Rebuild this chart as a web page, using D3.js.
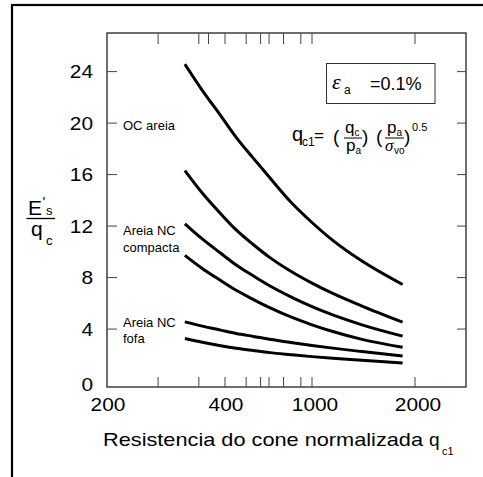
<!DOCTYPE html>
<html>
<head>
<meta charset="utf-8">
<script src="https://cdn.jsdelivr.net/npm/d3@7"></script>
<style>
  body { margin: 0; background: #fff; }
  svg { font-family: "Liberation Sans", Arial, sans-serif; }
</style>
</head>
<body>
<svg id="chart" width="483" height="477"></svg>
<script>
var qc1 = [316, 350, 390, 450, 540, 640, 800, 1000, 1150, 1400, 1840];

// E's/qc for each curve, top to bottom
var ocAreia  = [24.58, 22.55, 20.58, 18.89, 17.26, 15.77, 13.87, 12.28, 10.89, 9.28, 7.46];
var curve2   = [16.31, 14.57, 12.96, 11.70, 10.55, 9.57, 8.49, 7.57, 6.77, 5.79, 4.54];
var compacta = [12.18, 11.0, 9.89, 8.98, 8.12, 7.36, 6.50, 5.74, 5.10, 4.33, 3.45];
var curve4   = [9.73, 8.71, 7.77, 7.01, 6.29, 5.66, 4.94, 4.33, 3.81, 3.20, 2.58];
var fofa     = [4.56, 4.23, 3.92, 3.66, 3.43, 3.21, 2.96, 2.73, 2.52, 2.25, 1.90];
var curve6   = [3.27, 2.98, 2.71, 2.51, 2.33, 2.17, 2.01, 1.86, 1.73, 1.58, 1.36];
var series = [ocAreia, curve2, compacta, curve4, fofa, curve6];

var xLabels = [200, 400, 1000, 2000];
var xTicksBottom = [270, 343, 400, 500, 582, 636, 741, 889, 1000, 2000];
var xTicksTop = [270, 343, 363, 400, 500, 582, 636, 741, 889, 1000, 2000];
var yTicks = [4, 8, 12, 16, 20, 24];
var yLabels = [0, 4, 8, 12, 16, 20, 24];

var svg = d3.select("#chart");

// the printed axis is not an even log scale, so piecewise
var x = d3.scaleLog()
  .domain([200, 400, 1000, 2000, 2820])
  .range([107, 225, 312, 415, 466]);
var y = d3.scaleLinear().domain([-0.5, 27]).range([387, 33]);

var pLeft = x(200), pRight = x(2820), pTop = y(27), pBottom = y(-0.5);

// outer frame (cut at right and bottom)
svg.append("rect")
  .attr("x", 12).attr("y", 5).attr("width", 520).attr("height", 520)
  .attr("fill", "none").attr("stroke", "#000").attr("stroke-width", 2.2);

// plot frame
svg.append("rect")
  .attr("x", pLeft).attr("y", pTop)
  .attr("width", pRight - pLeft).attr("height", pBottom - pTop)
  .attr("fill", "none").attr("stroke", "#222").attr("stroke-width", 1.3);

var ticks = svg.append("g").attr("stroke", "#444").attr("stroke-width", 1);

ticks.selectAll(".tb").data(xTicksBottom).enter().append("line")
  .attr("x1", function(d){ return x(d); }).attr("x2", function(d){ return x(d); })
  .attr("y1", pBottom).attr("y2", pBottom - 10);

ticks.selectAll(".tt").data(xTicksTop).enter().append("line")
  .attr("x1", function(d){ return x(d); }).attr("x2", function(d){ return x(d); })
  .attr("y1", pTop).attr("y2", pTop + 11);

ticks.selectAll(".tl").data(yTicks).enter().append("line")
  .attr("x1", pLeft).attr("x2", pLeft + 10)
  .attr("y1", function(d){ return y(d); }).attr("y2", function(d){ return y(d); });

ticks.selectAll(".tr").data(yTicks).enter().append("line")
  .attr("x1", pRight).attr("x2", pRight - 9)
  .attr("y1", function(d){ return y(d); }).attr("y2", function(d){ return y(d); });

svg.selectAll(".xl").data(xLabels).enter().append("text")
  .attr("x", function(d){ return x(d) + (d >= 1000 ? 3 : 1); })
  .attr("y", 411)
  .attr("text-anchor", "middle")
  .attr("font-size", 19)
  .attr("textLength", function(d){ return String(d).length * 11.6; })
  .attr("lengthAdjust", "spacingAndGlyphs")
  .text(function(d){ return d; });

svg.selectAll(".yl").data(yLabels).enter().append("text")
  .attr("x", 93)
  .attr("y", function(d){ return y(d) + (d === 0 ? 4 : 0); })
  .attr("dy", "0.35em")
  .attr("text-anchor", "end")
  .attr("font-size", 19)
  .attr("textLength", function(d){ return String(d).length * 11.6; })
  .attr("lengthAdjust", "spacingAndGlyphs")
  .text(function(d){ return d; });

var line = d3.line()
  .x(function(d, i){ return x(qc1[i]); })
  .y(function(d){ return y(d); })
  .curve(d3.curveMonotoneX);

svg.selectAll(".curve").data(series).enter().append("path")
  .attr("d", line)
  .attr("fill", "none")
  .attr("stroke", "#000")
  .attr("stroke-width", 3);

// curve labels
var notes = [
  ["OC areia", 130],
  ["Areia NC", 235],
  ["compacta", 251.5],
  ["Areia NC", 326.5],
  ["fofa", 343]
];
svg.selectAll(".note").data(notes).enter().append("text")
  .attr("x", 123).attr("y", function(d){ return d[1]; })
  .attr("font-size", 13)
  .text(function(d){ return d[0]; });

// y axis title: E's / qc
var yt = svg.append("g");
yt.append("text").attr("x", 28).attr("y", 215).attr("font-size", 21).text("E");
yt.append("text").attr("x", 42.5).attr("y", 207).attr("font-size", 14).text("'");
yt.append("text").attr("x", 46).attr("y", 215).attr("font-size", 13).text("s");
yt.append("line").attr("x1", 26.5).attr("x2", 55).attr("y1", 218.5).attr("y2", 218.5)
  .attr("stroke", "#000").attr("stroke-width", 1.3);
yt.append("text").attr("x", 31).attr("y", 236).attr("font-size", 21).text("q");
yt.append("text").attr("x", 46).attr("y", 245).attr("font-size", 13).text("c");

// x axis title
svg.append("text").attr("x", 103).attr("y", 446).attr("font-size", 19)
  .attr("textLength", 320).attr("lengthAdjust", "spacingAndGlyphs")
  .text("Resistencia do cone normalizada");
svg.append("text").attr("x", 429).attr("y", 446).attr("font-size", 19).text("q");
svg.append("text").attr("x", 442).attr("y", 455).attr("font-size", 11).text("c1");

// strain box
svg.append("rect").attr("x", 326.5).attr("y", 63.5).attr("width", 108.5).attr("height", 40)
  .attr("fill", "#fff").attr("stroke", "#333").attr("stroke-width", 1);
svg.append("text").attr("x", 332).attr("y", 89).attr("font-size", 22)
  .attr("font-family", "Liberation Serif, serif").attr("font-style", "italic").text("ε");
svg.append("text").attr("x", 344).attr("y", 94).attr("font-size", 12).text("a");
svg.append("text").attr("x", 370).attr("y", 89.5).attr("font-size", 18).text("=0.1%");

// formula
var f = svg.append("g");
f.append("text").attr("x", 292).attr("y", 141).attr("font-size", 20).text("q");
f.append("text").attr("x", 302).attr("y", 146).attr("font-size", 12).text("c1");
f.append("text").attr("x", 314).attr("y", 141).attr("font-size", 17).text("=");
f.append("text").attr("x", 333).attr("y", 143).attr("font-size", 19).text("(");
f.append("text").attr("x", 345).attr("y", 133).attr("font-size", 17).text("q");
f.append("text").attr("x", 354.5).attr("y", 136).attr("font-size", 10).text("c");
f.append("line").attr("x1", 344).attr("x2", 362).attr("y1", 138).attr("y2", 138)
  .attr("stroke", "#000").attr("stroke-width", 1);
f.append("text").attr("x", 346).attr("y", 151).attr("font-size", 17).text("p");
f.append("text").attr("x", 355.5).attr("y", 154).attr("font-size", 10).text("a");
f.append("text").attr("x", 362).attr("y", 143).attr("font-size", 19).text(")");
f.append("text").attr("x", 376).attr("y", 143).attr("font-size", 19).text("(");
f.append("text").attr("x", 387).attr("y", 133).attr("font-size", 17).text("p");
f.append("text").attr("x", 396.5).attr("y", 136).attr("font-size", 10).text("a");
f.append("line").attr("x1", 385).attr("x2", 404).attr("y1", 138).attr("y2", 138)
  .attr("stroke", "#000").attr("stroke-width", 1);
f.append("text").attr("x", 385).attr("y", 151).attr("font-size", 17)
  .attr("font-family", "Liberation Serif, serif").attr("font-style", "italic").text("σ");
f.append("text").attr("x", 394).attr("y", 154).attr("font-size", 10).text("vo");
f.append("text").attr("x", 404).attr("y", 143).attr("font-size", 19).text(")");
f.append("text").attr("x", 412).attr("y", 131).attr("font-size", 11).text("0.5");
</script>
</body>
</html>
